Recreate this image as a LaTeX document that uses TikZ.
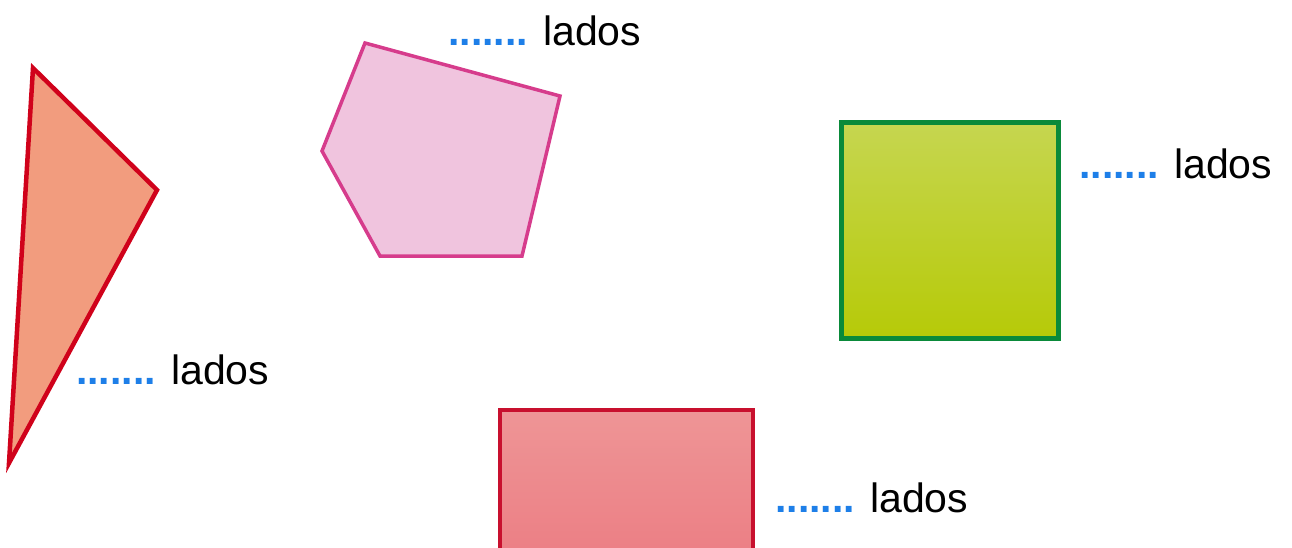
\documentclass[tikz,border=0pt]{standalone}
\usepackage{fontspec}
\setmainfont{Liberation Sans}
\definecolor{dotblue}{HTML}{1E7FE8}
\definecolor{triline}{HTML}{D0021B}
\definecolor{trifill}{HTML}{F29C7E}
\definecolor{penline}{HTML}{D63C8C}
\definecolor{penfill}{HTML}{F0C4DE}
\definecolor{sqline}{HTML}{0A8A3A}
\definecolor{sqtop}{HTML}{C6D650}
\definecolor{sqbot}{HTML}{B6CA08}
\definecolor{reline}{HTML}{C8102E}
\definecolor{retop}{HTML}{EE9596}
\definecolor{rebot}{HTML}{EC7E84}
\begin{document}
\begin{tikzpicture}[x=1pt,y=-1pt,
  lbl/.style={anchor=base west,inner sep=0pt,font=\fontsize{41}{49}\selectfont},
  shp/.style={line join=miter}]
\useasboundingbox (0,0) rectangle (1292,547);
% triangle
\draw[shp,draw=triline,fill=trifill,line width=4.5] (33,68) -- (157,190) -- (9,463) -- cycle;
% pentagon
\draw[shp,draw=penline,fill=penfill,line width=3.5] (365,43) -- (560,96) -- (522,256) -- (380,256) -- (322,151) -- cycle;
% square
\shade[top color=sqtop,bottom color=sqbot] (841,122) rectangle (1058,338);
\draw[sqline,line width=5] (841,122) rectangle (1058,338);
% rectangle
\begin{scope}
\clip (0,0) rectangle (1292,547);
\shade[top color=retop,bottom color=rebot] (500,410) rectangle (753,560);
\draw[reline,line width=3.5] (500,410) rectangle (753,560);
\end{scope}
% labels
\node[lbl] (t1) at (448,45) {\textcolor{dotblue}{\bfseries .......} lados};
\node[lbl] (t2) at (1079,178) {\textcolor{dotblue}{\bfseries .......} lados};
\node[lbl] (t3) at (76,384) {\textcolor{dotblue}{\bfseries .......} lados};
\node[lbl] (t4) at (775,512) {\textcolor{dotblue}{\bfseries .......} lados};
\end{tikzpicture}
\end{document}
